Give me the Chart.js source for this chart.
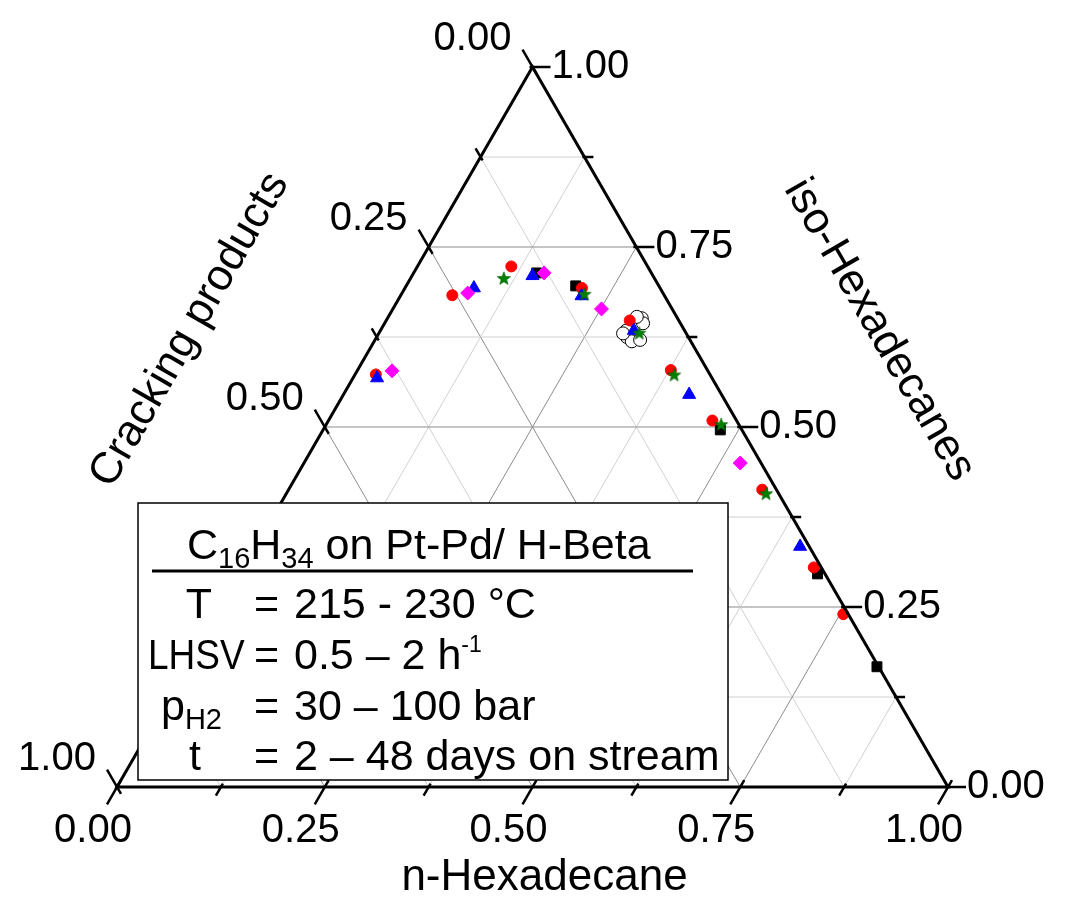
<!DOCTYPE html>
<html>
<head>
<meta charset="utf-8">
<title>C16H34 on Pt-Pd/H-Beta</title>
<script src="https://cdn.jsdelivr.net/npm/chart.js@4/dist/chart.umd.min.js"></script>
<style>
html, body { margin: 0; padding: 0; background: #fff; }
#wrap { width: 1075px; height: 903px; }
</style>
</head>
<body>
<div id="wrap"><canvas id="ternary" width="1075" height="903"></canvas></div>
<script>
// compositions as mass fractions: n-hexadecane and iso-hexadecanes,
// cracking products = 1 - n - iso
const squaresN   = [0.148, 0.204, 0.478, 0.695, 0.831];
const squaresIso = [0.714, 0.696, 0.496, 0.296, 0.167];

const circlesN   = [0.062, 0.113, 0.213, 0.293, 0.377, 0.462, 0.570, 0.686, 0.754, 0.025];
const circlesIso = [0.683, 0.723, 0.693, 0.648, 0.579, 0.509, 0.413, 0.305, 0.240, 0.573];

const trianglesN   = [0.083, 0.145, 0.218, 0.305, 0.416, 0.655, 0.029];
const trianglesIso = [0.693, 0.710, 0.682, 0.634, 0.545, 0.334, 0.568];

const diamondsN   = [0.079, 0.157, 0.251, 0.525, 0.042];
const diamondsIso = [0.686, 0.714, 0.664, 0.450, 0.578];

const starsN   = [0.112, 0.220, 0.313, 0.384, 0.475, 0.577];
const starsIso = [0.707, 0.685, 0.631, 0.573, 0.504, 0.408];

const openN   = [0.306, 0.311, 0.299, 0.296, 0.301, 0.310, 0.319, 0.294];
const openIso = [0.651, 0.644, 0.653, 0.634, 0.625, 0.619, 0.621, 0.630];

const tickValues = [0, 0.25, 0.5, 0.75, 1];
const tickText = ['0.00', '0.25', '0.50', '0.75', '1.00'];

const H = Math.sqrt(3) / 2;
const FONT = '"Liberation Sans", Arial, sans-serif';

function toXY(ns, isos) {
    return ns.map(function (n, i) {
        return {x: n + isos[i] / 2, y: isos[i] * H};
    });
}

// filled five-point star used as point style
function makeStar(r, color) {
    var c = document.createElement('canvas');
    c.width = c.height = Math.ceil(r * 2 + 2);
    var g = c.getContext('2d');
    g.translate(c.width / 2, c.height / 2 + 0.8);
    g.beginPath();
    for (var i = 0; i < 10; i++) {
        var rr = i % 2 ? r * 0.42 : r;
        var a = -Math.PI / 2 + i * Math.PI / 5;
        g.lineTo(Math.cos(a) * rr, Math.sin(a) * rr);
    }
    g.closePath();
    g.fillStyle = color;
    g.fill();
    g.strokeStyle = '#005a00';
    g.lineWidth = 0.6;
    g.stroke();
    return c;
}

function line(ctx, a, b) {
    ctx.beginPath();
    ctx.moveTo(a.x, a.y);
    ctx.lineTo(b.x, b.y);
    ctx.stroke();
}

function pixelFn(chart) {
    var xs = chart.scales.x, ys = chart.scales.y;
    return function (n, iso) {
        return {x: xs.getPixelForValue(n + iso / 2), y: ys.getPixelForValue(iso * H)};
    };
}

// text with sub/superscript pieces: [text, size, dy]
function drawRich(ctx, parts, x, y) {
    parts.forEach(function (p) {
        ctx.font = p[1] + 'px ' + FONT;
        ctx.fillText(p[0], x, y + p[2]);
        x += ctx.measureText(p[0]).width;
    });
    return x;
}

function fillNarrow(ctx, text, x, y, sx) {
    ctx.save();
    ctx.translate(x, y);
    ctx.scale(sx, 1);
    ctx.fillText(text, 0, 0);
    ctx.restore();
}

const ternaryFrame = {
    id: 'ternaryFrame',
    beforeDatasetsDraw(chart) {
        var ctx = chart.ctx, p = pixelFn(chart);
        ctx.save();
        ctx.lineWidth = 1;
        for (var k = 1; k < 8; k++) {
            var t = k / 8;
            ctx.strokeStyle = k % 2 ? '#d0d0d0' : '#8c8c8c';
            line(ctx, p(0, t), p(1 - t, t));
            line(ctx, p(t, 0), p(t, 1 - t));
            line(ctx, p(0, 1 - t), p(1 - t, 0));
        }
        ctx.restore();
    },
    afterDatasetsDraw(chart) {
        var ctx = chart.ctx, p = pixelFn(chart);
        var bl = p(0, 0), br = p(1, 0), top = p(0, 1);
        ctx.save();
        ctx.strokeStyle = '#000';
        ctx.lineCap = 'butt';

        ctx.lineWidth = 3;
        ctx.beginPath();
        ctx.moveTo(bl.x, bl.y);
        ctx.lineTo(br.x, br.y);
        ctx.lineTo(top.x, top.y);
        ctx.closePath();
        ctx.stroke();

        // ticks: bottom (n), right (iso), left (cracking)
        var dBottom = {x: -0.5, y: H}, dRight = {x: 1, y: 0}, dLeft = {x: -0.5, y: -H};
        function tick(o, d, a, b) {
            line(ctx, {x: o.x + d.x * a, y: o.y + d.y * a}, {x: o.x + d.x * b, y: o.y + d.y * b});
        }
        ctx.lineWidth = 2.5;
        for (var k = 0; k <= 8; k++) {
            var t = k / 8, major = k % 2 === 0;
            var a = major ? -8 : -4, b = major ? 20 : 10;
            tick(p(t, 0), dBottom, a, b);
            tick(p(1 - t, t), dRight, major ? -3 : -2, major ? 18 : 9);
            tick(p(0, 1 - t), dLeft, a, b);
        }

        ctx.fillStyle = '#000';
        ctx.font = '40px ' + FONT;
        ctx.textBaseline = 'middle';
        tickValues.forEach(function (v, i) {
            var q = p(v, 0);
            ctx.textAlign = 'center';
            ctx.fillText(tickText[i], q.x - 24, q.y + 44);
            q = p(1 - v, v);
            ctx.textAlign = 'left';
            ctx.fillText(tickText[i], q.x + 19, q.y);
            // the 0.75 label on the left side sits under the conditions box
            if (v === 0.75) return;
            q = p(0, 1 - v);
            ctx.textAlign = 'center';
            ctx.fillText(tickText[i], q.x - 60, q.y - 28);
        });

        // axis titles
        ctx.font = '44px ' + FONT;
        ctx.textAlign = 'center';
        var ml = p(0, 0.5), mr = p(0.5, 0.5);
        ctx.save();
        ctx.translate(ml.x - 135, ml.y - 97);
        ctx.rotate(-Math.PI / 3);
        ctx.fillText('Cracking products', 0, 0);
        ctx.restore();
        ctx.save();
        ctx.translate(mr.x + 139, mr.y - 97);
        ctx.rotate(Math.PI / 3);
        ctx.fillText('iso-Hexadecanes', 0, 0);
        ctx.restore();
        ctx.fillText('n-Hexadecane', (bl.x + br.x) / 2 + 12, bl.y + 91);

        // conditions box
        ctx.fillStyle = '#fff';
        ctx.fillRect(138, 503, 590, 277);
        ctx.lineWidth = 1.5;
        ctx.strokeRect(138, 503, 590, 277);
        ctx.fillStyle = '#000';
        ctx.textAlign = 'left';
        ctx.textBaseline = 'alphabetic';
        drawRich(ctx, [['C', 43, 0], ['16', 29, 9], ['H', 43, 0], ['34', 29, 9],
            [' on Pt-Pd/ H-Beta', 43, 0]], 187, 559);
        ctx.lineWidth = 3;
        line(ctx, {x: 152, y: 571}, {x: 693, y: 571});

        ctx.font = '43px ' + FONT;
        ctx.textAlign = 'center';
        ctx.fillText('T', 199, 618);
        ctx.fillText('t', 195, 770);
        ctx.textAlign = 'left';
        fillNarrow(ctx, 'LHSV', 148, 669, 0.86);
        drawRich(ctx, [['p', 43, 0], ['H2', 29, 9]], 161, 720);
        ctx.font = '43px ' + FONT;
        [618, 669, 720, 770].forEach(function (y) { ctx.fillText('=', 254, y); });
        ctx.fillText('215 - 230 °C', 294, 618);
        drawRich(ctx, [['0.5 – 2 h', 43, 0], ['-1', 23, -17]], 294, 669);
        ctx.font = '43px ' + FONT;
        ctx.fillText('30 – 100 bar', 294, 720);
        ctx.fillText('2 – 48 days on stream', 294, 770);
        ctx.restore();
    }
};

function series(ns, isos, style, radius, fill, border, order) {
    return {
        data: toXY(ns, isos),
        pointStyle: style,
        pointRadius: radius,
        pointHoverRadius: radius,
        backgroundColor: fill,
        borderColor: border,
        borderWidth: 1,
        clip: false,
        order: order
    };
}

var ctx = document.getElementById('ternary').getContext('2d');
var chart = new Chart(ctx, {
    type: 'scatter',
    data: {
        datasets: [
            series(openN, openIso, 'circle', 6.5, '#ffffff', '#000000', 6),
            series(squaresN, squaresIso, 'rect', 7, '#000000', '#000000', 5),
            series(circlesN, circlesIso, 'circle', 5.5, '#ff0000', '#ff0000', 4),
            series(trianglesN, trianglesIso, 'triangle', 7.5, '#0000ff', '#0000ff', 3),
            series(diamondsN, diamondsIso, 'rectRot', 7, '#ff00ff', '#ff00ff', 2),
            series(starsN, starsIso, makeStar(7, '#008000'), 7, '#008000', '#008000', 1)
        ]
    },
    options: {
        responsive: false,
        animation: false,
        devicePixelRatio: 1,
        layout: {padding: {left: 117, right: 127, top: 67, bottom: 116}},
        scales: {
            x: {type: 'linear', min: 0, max: 1, display: false},
            y: {type: 'linear', min: 0, max: H, display: false}
        },
        plugins: {legend: {display: false}, tooltip: {enabled: false}}
    },
    plugins: [ternaryFrame]
});
</script>
</body>
</html>
